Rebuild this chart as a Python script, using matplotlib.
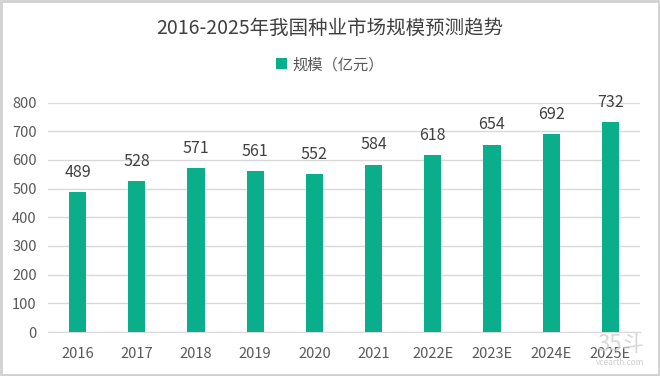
import matplotlib.pyplot as plt
from matplotlib.patches import Rectangle

plt.rcParams['font.family'] = ['Noto Sans CJK SC', 'DejaVu Sans']

# Data
years = ["2016", "2017", "2018", "2019", "2020", "2021", "2022E", "2023E", "2024E", "2025E"]
scale = [489, 528, 571, 561, 552, 584, 618, 654, 692, 732]
y_ticks = [0, 100, 200, 300, 400, 500, 600, 700, 800]

bar_color = "#0AAE8A"
text_color = "#595959"

fig = plt.figure(figsize=(6.6, 3.76), dpi=100)
ax = fig.add_axes([0.0727, 0.117, 0.897, 0.610])

x = list(range(len(years)))
ax.bar(x, scale, width=0.29, color=bar_color, zorder=3, label="规模（亿元）")

for xi, v in zip(x, scale):
    ax.annotate(str(v), (xi, v), xytext=(0, 8), textcoords="offset points",
                ha="center", va="bottom", fontsize=11.5, color="#404040")

ax.set_xlim(-0.5, len(years) - 0.5)
ax.set_ylim(0, 800)
ax.set_yticks(y_ticks)
ax.set_xticks(x)
ax.set_xticklabels(years)
ax.tick_params(axis="both", length=0, labelsize=10.5, colors=text_color)
ax.tick_params(axis="x", pad=11)
ax.tick_params(axis="y", pad=8)
ax.grid(axis="y", color="#D9D9D9", linewidth=1, zorder=0)
for s in ["top", "right", "left"]:
    ax.spines[s].set_visible(False)
ax.spines["bottom"].set_color("#D9D9D9")

fig.text(0.5, 0.925, "2016-2025年我国种业市场规模预测趋势", ha="center", va="center",
         fontsize=14, color="#404040")
fig.legend(loc="center", bbox_to_anchor=(0.5, 0.828), frameon=False, fontsize=11,
           handlelength=0.7, handleheight=0.7, handletextpad=0.4, labelcolor=text_color)

# watermark
fig.text(0.94, 0.085, "35斗", ha="center", va="center", fontsize=16, color="#CFCFCF", alpha=0.8)
fig.text(0.94, 0.035, "vcearth.com", ha="center", va="center", fontsize=6, color="#CFCFCF")

# border
fig.patches.append(Rectangle((0.002, 0.003), 0.996, 0.994, transform=fig.transFigure,
                             fill=False, edgecolor="#D0D0D0", linewidth=2))

fig.savefig("out.png", dpi=100)
